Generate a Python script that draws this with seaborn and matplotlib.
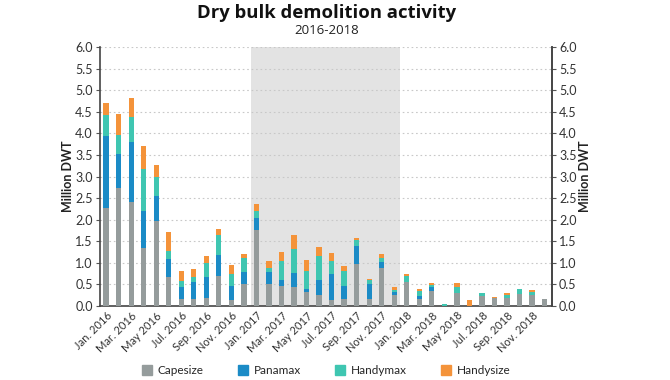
import matplotlib
matplotlib.use("Agg")
import matplotlib.pyplot as plt
import matplotlib.patches as mpatches
import numpy as np
import pandas as pd
import seaborn as sns

# Monthly demolition, million DWT, Jan 2016 - Dec 2018
months = pd.date_range("2016-01-01", "2018-12-01", freq="MS")
month_names = ["Jan.", "Feb.", "Mar.", "Apr.", "May", "Jun.",
               "Jul.", "Aug.", "Sep.", "Oct.", "Nov.", "Dec."]
labels = [f"{month_names[m.month - 1]} {m.year}" for m in months]

capesize = [2.28, 2.73, 2.42, 1.35, 1.97, 0.67, 0.16, 0.17, 0.18, 0.70, 0.14, 0.50,
            1.75, 0.50, 0.46, 0.43, 0.32, 0.25, 0.14, 0.17, 0.97, 0.15, 0.87, 0.26,
            0.55, 0.17, 0.35, 0.00, 0.31, 0.00, 0.24, 0.19, 0.18, 0.28, 0.25, 0.16]
panamax = [1.66, 0.80, 1.37, 0.85, 0.58, 0.42, 0.27, 0.38, 0.49, 0.48, 0.31, 0.28,
           0.28, 0.28, 0.14, 0.34, 0.08, 0.35, 0.59, 0.28, 0.41, 0.35, 0.14, 0.06,
           0.00, 0.07, 0.08, 0.00, 0.00, 0.00, 0.00, 0.00, 0.00, 0.00, 0.00, 0.00]
handymax = [0.49, 0.44, 0.59, 0.97, 0.44, 0.19, 0.14, 0.13, 0.32, 0.47, 0.29, 0.34,
            0.18, 0.11, 0.43, 0.54, 0.40, 0.56, 0.32, 0.37, 0.14, 0.10, 0.10, 0.04,
            0.15, 0.11, 0.06, 0.05, 0.12, 0.00, 0.06, 0.00, 0.08, 0.11, 0.08, 0.00]
handysize = [0.28, 0.47, 0.45, 0.53, 0.27, 0.43, 0.23, 0.17, 0.17, 0.14, 0.20, 0.09,
             0.16, 0.15, 0.22, 0.33, 0.26, 0.21, 0.18, 0.11, 0.06, 0.02, 0.10, 0.07,
             0.05, 0.04, 0.05, 0.00, 0.11, 0.14, 0.00, 0.02, 0.05, 0.00, 0.03, 0.00]

segments = ["Capesize", "Panamax", "Handymax", "Handysize"]
colors = ["#959c9c", "#1b8bc6", "#3fc6b1", "#f4933a"]

df = pd.DataFrame({"month": labels, "Capesize": capesize, "Panamax": panamax,
                   "Handymax": handymax, "Handysize": handysize})
cum = df[segments].cumsum(axis=1)

sns.set_style("white")
plt.rcParams["font.family"] = ["Lato", "DejaVu Sans"]

fig = plt.figure(figsize=(6.7, 3.8), dpi=100)
ax = fig.add_axes([0.149, 0.195, 0.675, 0.681])

# 2017 highlight
ax.axvspan(11.55, 23.5, color="#e3e3e3", zorder=0, lw=0)

# stacked bars: draw cumulative totals from top layer down
for seg, col in reversed(list(zip(segments, colors))):
    sns.barplot(x=df["month"], y=cum[seg], color=col, width=0.42, errorbar=None,
                saturation=1, ax=ax, zorder=3, order=labels, linewidth=0)

yt = np.arange(0, 6.01, 0.5)
ax.set_ylim(0, 6)
ax.set_xlim(-0.5, 35.6)
ax.set_yticks(yt)
ax.set_yticklabels([f"{v:.1f}" for v in yt], fontsize=9, color="#333333")
for y in yt[1:]:
    ax.axhline(y, color="#c8c8c8", lw=0.8, ls=(0, (1.5, 2.5)), zorder=1)

ax.set_xticks(range(0, 36, 2))
ax.set_xticklabels(labels[::2], rotation=45, ha="right", rotation_mode="anchor",
                   fontsize=8, color="#333333")
ax.set_xlabel("")
ax.set_ylabel("Million DWT", fontsize=9, fontweight="bold", color="#222222", labelpad=1)
ax.tick_params(axis="y", length=3, width=0.8, color="#555555", direction="out", pad=2)
ax.tick_params(axis="x", length=0, pad=3)

for side in ["left", "bottom", "right"]:
    ax.spines[side].set_color("#444444")
    ax.spines[side].set_linewidth(1.2)
ax.spines["top"].set_visible(False)

ax2 = ax.twinx()
ax2.set_ylim(0, 6)
ax2.set_yticks(yt)
ax2.set_yticklabels([f"{v:.1f}" for v in yt], fontsize=9, color="#333333")
ax2.set_ylabel("Million DWT", fontsize=9, fontweight="bold", color="#222222", labelpad=2)
ax2.tick_params(axis="y", length=3, width=0.8, color="#555555", pad=2)
for side in ["top", "left", "bottom"]:
    ax2.spines[side].set_visible(False)
ax2.spines["right"].set_color("#444444")
ax2.spines["right"].set_linewidth(1.2)

fig.text(0.487, 0.965, "Dry bulk demolition activity", ha="center", va="center",
         fontsize=13.3, fontweight="bold", family=["Open Sans", "DejaVu Sans"], color="#111111")
fig.text(0.487, 0.92, "2016-2018", ha="center", va="center", fontsize=9.5,
         family=["Open Sans", "DejaVu Sans"], color="#222222")

handles = [mpatches.Patch(color=c, label=s) for s, c in zip(segments, colors)]
fig.legend(handles=handles, loc="center", bbox_to_anchor=(0.487, 0.025), ncol=4,
           frameon=False, fontsize=8.5, handlelength=0.85, handleheight=0.85,
           columnspacing=2.9, handletextpad=0.5)

fig.savefig("out.png", dpi=100)
